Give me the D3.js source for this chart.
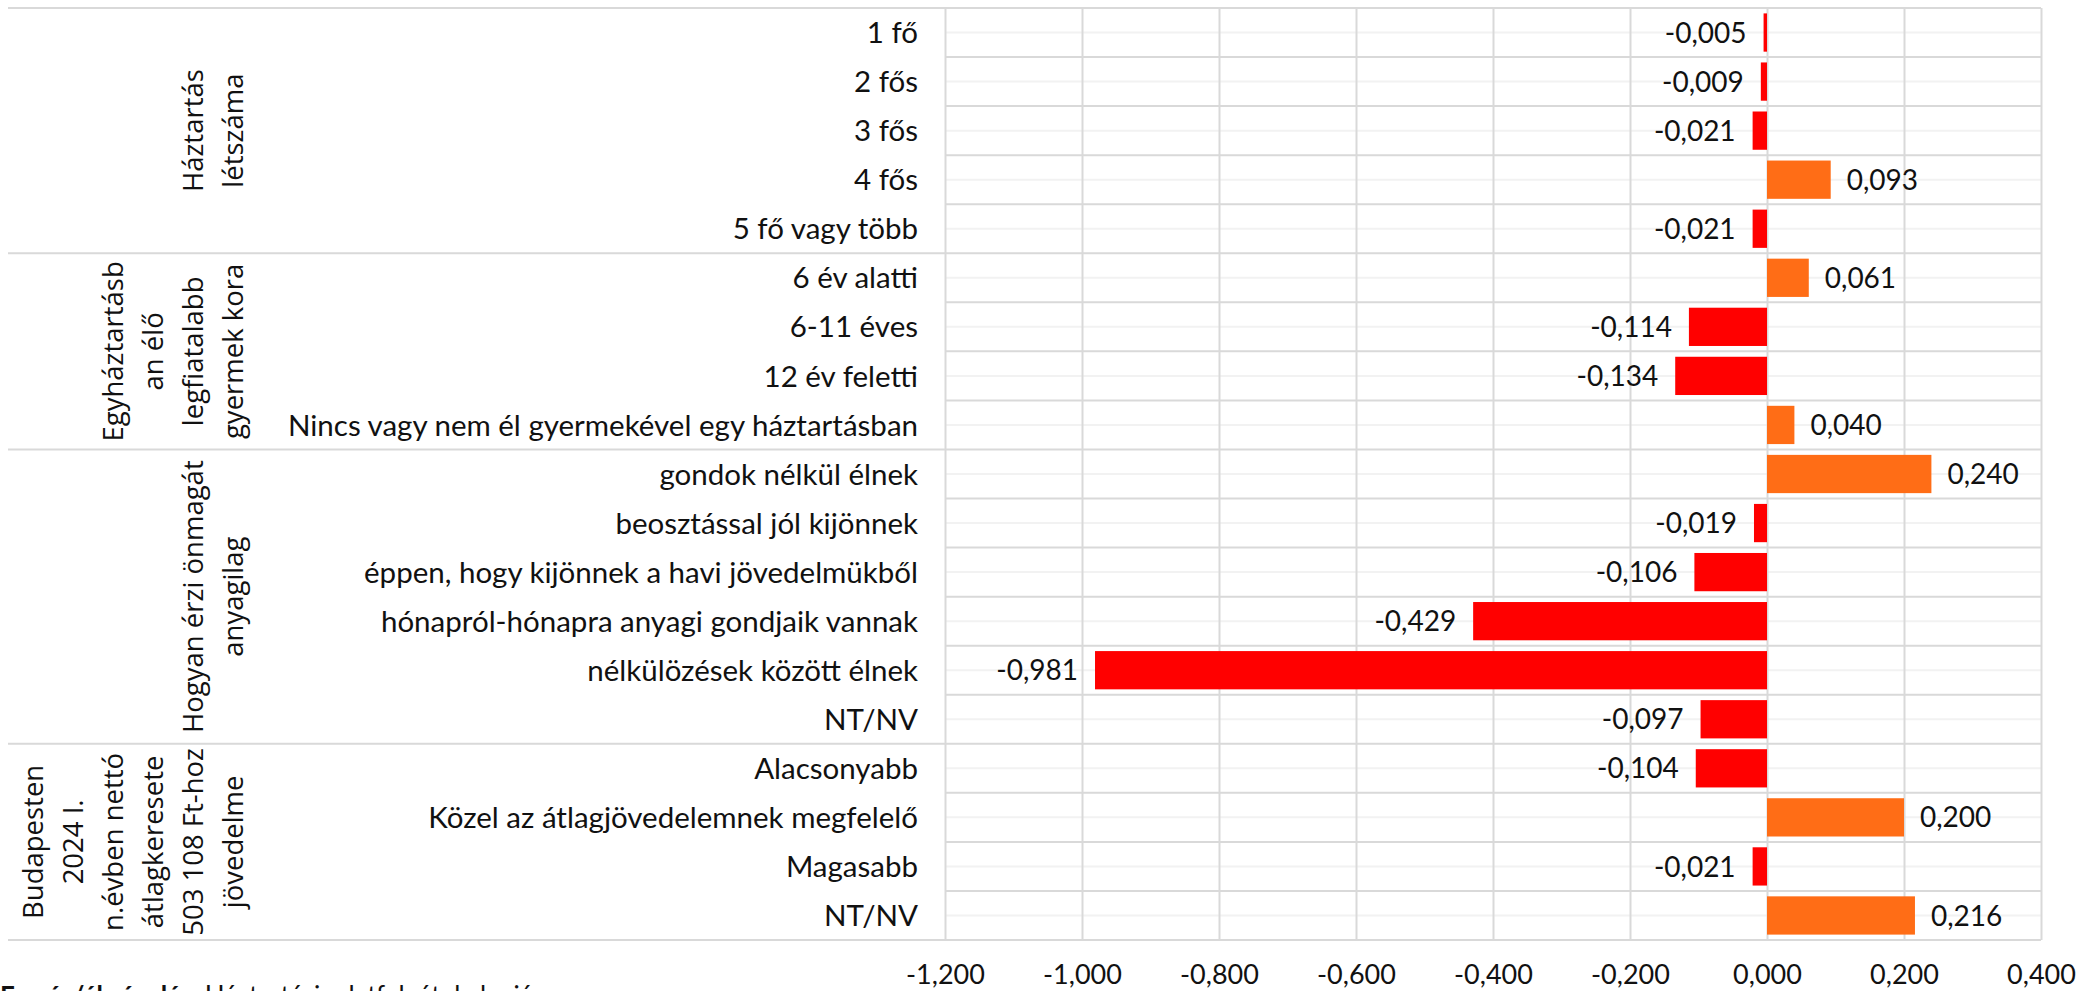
<!DOCTYPE html>
<html>
<head>
<meta charset="utf-8">
<script src="https://cdn.jsdelivr.net/npm/d3@7"></script>
<style>
body{margin:0;background:#fff;}
svg{display:block;}
</style>
</head>
<body>
<div class="chart"></div>
<script>
//data
const categories = [
	"1 fő","2 fős","3 fős","4 fős","5 fő vagy több",
	"6 év alatti","6-11 éves","12 év feletti","Nincs vagy nem él gyermekével egy háztartásban",
	"gondok nélkül élnek","beosztással jól kijönnek","éppen, hogy kijönnek a havi jövedelmükből","hónapról-hónapra anyagi gondjaik vannak","nélkülözések között élnek","NT/NV",
	"Alacsonyabb","Közel az átlagjövedelemnek megfelelő","Magasabb","NT/NV"
];
const values = [
	-0.005,-0.009,-0.021,0.093,-0.021,
	0.061,-0.114,-0.134,0.040,
	0.240,-0.019,-0.106,-0.429,-0.981,-0.097,
	-0.104,0.200,-0.021,0.216
];
const groupLines = [
	["Háztartás","létszáma"],
	["Egyháztartásb","an élő","legfiatalabb","gyermek kora"],
	["Hogyan érzi önmagát","anyagilag"],
	["Budapesten","2024 I.","n.évben nettó","átlagkeresete","503 108 Ft-hoz","jövedelme"]
];
const groupSizes = [5,4,6,4];
const xTicks = [-1.2,-1.0,-0.8,-0.6,-0.4,-0.2,0,0.2,0.4];

//layout constants
const width = 2082;
const height = 991;
const plotLeft = 945, plotRight = 2041, plotTop = 8, plotBottom = 940;
const labelFont = "Lato, 'Open Sans', sans-serif";
const groupFont = "'Open Sans', 'Noto Sans', sans-serif";

const locale = d3.formatLocale({decimal:",", thousands:" ", grouping:[3], currency:["",""], minus:"-"});
const fmt = locale.format(".3f");

const svg = d3.select(".chart")
		.append("svg")
		.attr("width", width)
		.attr("height", height);

const x = d3.scaleLinear().domain([-1.2,0.4]).range([plotLeft, plotRight]);
const rows = d3.scaleBand().domain(d3.range(categories.length)).range([plotTop, plotBottom]);
const bars = d3.scaleBand().domain(d3.range(categories.length)).range([plotTop, plotBottom])
		.paddingInner(0.22).paddingOuter(0.11);
const bw = rows.bandwidth();

//group start indices
const groupStarts = [];
groupSizes.reduce((acc, n) => {groupStarts.push(acc); return acc + n;}, 0);

//minor gridlines through row centres
svg.append("g")
		.selectAll("line")
		.data(d3.range(categories.length))
		.enter()
		.append("line")
		.attr("x1", plotLeft).attr("x2", plotRight)
		.attr("y1", d => rows(d) + bw/2).attr("y2", d => rows(d) + bw/2)
		.attr("stroke", "#f2f2f2").attr("stroke-width", 2);

//vertical gridlines + tick labels
const axis = svg.append("g")
		.attr("transform", `translate(0,${plotBottom})`)
		.call(d3.axisBottom(x).tickValues(xTicks).tickFormat(fmt)
			.tickSize(-(plotBottom - plotTop)).tickPadding(25));
axis.select(".domain").remove();
axis.selectAll(".tick line").attr("stroke", "#d9d9d9").attr("stroke-width", 2);
axis.selectAll(".tick text")
		.style("font-family", labelFont)
		.style("font-size", "27px")
		.attr("fill", "#111");

//row boundaries inside the plot
svg.append("g")
		.selectAll("line")
		.data(d3.range(categories.length).filter(i => !groupStarts.includes(i)))
		.enter()
		.append("line")
		.attr("x1", plotLeft).attr("x2", plotRight)
		.attr("y1", d => rows(d)).attr("y2", d => rows(d))
		.attr("stroke", "#d9d9d9").attr("stroke-width", 2);

//group boundaries run across the label area too
svg.append("g")
		.selectAll("line")
		.data(groupStarts.map(i => rows(i)).concat([plotBottom]))
		.enter()
		.append("line")
		.attr("x1", 8).attr("x2", plotRight)
		.attr("y1", d => d).attr("y2", d => d)
		.attr("stroke", "#d9d9d9").attr("stroke-width", 2);

//bars
svg.append("g")
		.selectAll("rect")
		.data(values)
		.enter()
		.append("rect")
		.attr("x", d => x(Math.min(0, d)))
		.attr("width", d => Math.abs(x(d) - x(0)))
		.attr("y", (d,i) => bars(i))
		.attr("height", bars.bandwidth())
		.attr("fill", d => d < 0 ? "#ff0000" : "#ff6d16");

//value labels
svg.append("g")
		.selectAll("text")
		.data(values)
		.enter()
		.append("text")
		.attr("x", d => d < 0 ? x(d) - 17 : x(d) + 16)
		.attr("y", (d,i) => rows(i) + bw/2)
		.attr("dy", "0.36em")
		.attr("text-anchor", d => d < 0 ? "end" : "start")
		.style("font-family", labelFont)
		.style("font-size", "28px")
		.attr("fill", "#111")
		.text(d => fmt(d));

//category labels
svg.append("g")
		.selectAll("text")
		.data(categories)
		.enter()
		.append("text")
		.attr("x", 918)
		.attr("y", (d,i) => rows(i) + bw/2)
		.attr("dy", "0.36em")
		.attr("text-anchor", "end")
		.style("font-family", labelFont)
		.style("font-size", "29.5px")
		.attr("fill", "#111")
		.text(d => d);

//group labels, rotated, last line closest to the categories
const lastLineX = 243;
const lineGap = 40;
const group = svg.append("g")
		.selectAll("g")
		.data(groupLines)
		.enter()
		.append("g");
group.each(function(lines, gi){
	const start = groupStarts[gi];
	const end = start + groupSizes[gi] - 1;
	const cy = (rows(start) + rows(end) + bw) / 2;
	d3.select(this).selectAll("text")
		.data(lines)
		.enter()
		.append("text")
		.attr("transform", (d,k) => `translate(${lastLineX - (lines.length - 1 - k) * lineGap},${cy}) rotate(-90)`)
		.attr("text-anchor", "middle")
		.style("font-family", groupFont)
		.style("font-size", "27.5px")
		.attr("fill", "#111")
		.text(d => d);
});

//source note, cut at the bottom edge as in the original
const note = svg.append("text")
		.attr("x", 0)
		.attr("y", 1005)
		.style("font-family", labelFont)
		.style("font-size", "26px")
		.attr("fill", "#111");
note.append("tspan").style("font-weight", "bold").text("Forrás/ábrázolás: ");
note.append("tspan").text("Háztartási adatfelvétel alapján");
</script>
</body>
</html>
